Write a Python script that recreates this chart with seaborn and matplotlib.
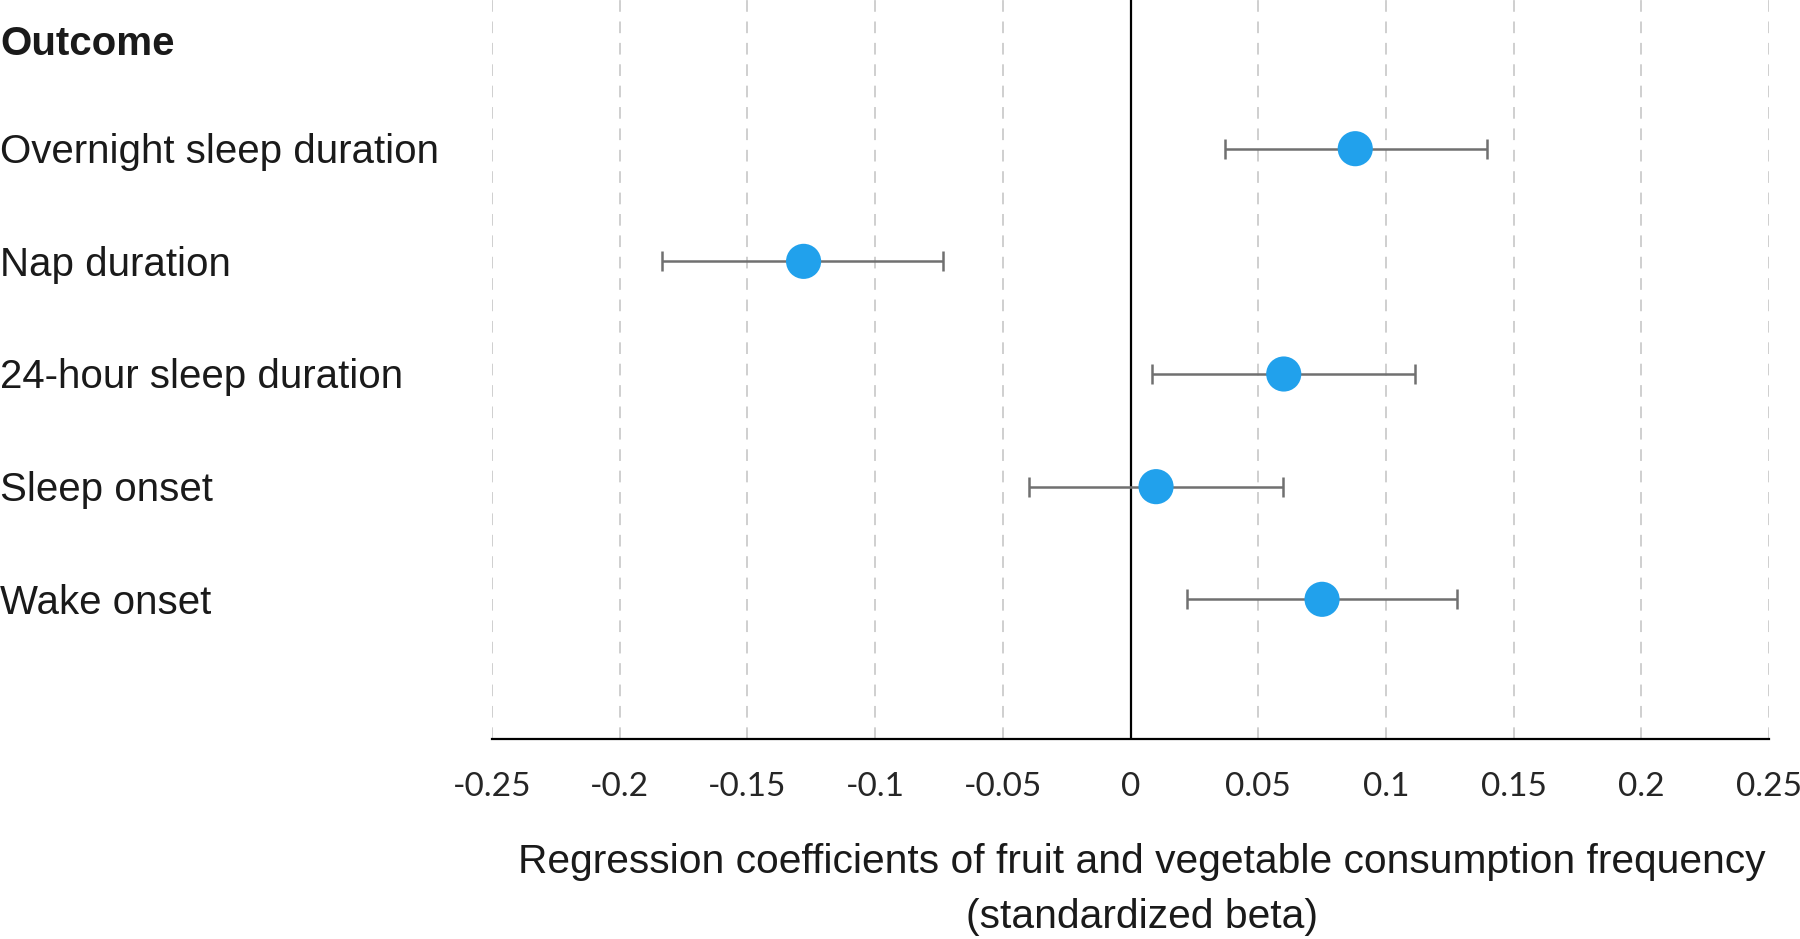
import matplotlib
matplotlib.use("Agg")
import matplotlib.pyplot as plt
import matplotlib.transforms as mtransforms
from matplotlib import font_manager
import seaborn as sns
import pandas as pd
import numpy as np

outcomes = ["Overnight sleep duration", "Nap duration", "24-hour sleep duration",
            "Sleep onset", "Wake onset"]
beta = [0.088, -0.128, 0.060, 0.010, 0.075]
ci_low = [0.037, -0.1835, 0.0085, -0.0396, 0.022]
ci_high = [0.1394, -0.0733, 0.1115, 0.0598, 0.128]
xticks = [-0.25, -0.2, -0.15, -0.1, -0.05, 0, 0.05, 0.1, 0.15, 0.2, 0.25]
xticklabels = ["-0.25", "-0.2", "-0.15", "-0.1", "-0.05", "0", "0.05", "0.1", "0.15", "0.2", "0.25"]

df = pd.DataFrame({"outcome": outcomes, "beta": beta, "lo": ci_low, "hi": ci_high})
df["row"] = np.arange(len(df))

sns.set_theme(style="white")
names = {f.name for f in font_manager.fontManager.ttflist}
main_font = "Liberation Sans" if "Liberation Sans" in names else "DejaVu Sans"
plt.rcParams["font.family"] = [main_font, "DejaVu Sans"]

fig = plt.figure(figsize=(18, 9.39), dpi=100)
ax = fig.add_axes([492/1800, (939-739)/939, (1769-492)/1800, 739/939])

for xt in xticks:
    if xt == 0:
        ax.axvline(0, color="black", lw=1.6, zorder=1)
    else:
        ax.axvline(xt, color="#cfcfcf", lw=1.4, ls=(0, (6, 5)), zorder=0)

ax.errorbar(df["beta"], df["row"],
            xerr=[df["beta"] - df["lo"], df["hi"] - df["beta"]],
            fmt="none", ecolor="#707070", elinewidth=1.8, capsize=7, capthick=1.8, zorder=2)
sns.scatterplot(data=df, x="beta", y="row", ax=ax, s=640, color="#21a1ec",
                edgecolor="none", zorder=3, legend=False)

ax.set_xlim(-0.25, 0.25)
ax.set_ylim(5.24, -1.32)
ax.set_yticks([])
ax.set_xticks(xticks)
ax.set_xticklabels(xticklabels, fontfamily="Lato", fontsize=24)
ax.tick_params(axis="x", direction="out", length=15, width=1.4, color="black", pad=9)
for s in ["top", "right", "left"]:
    ax.spines[s].set_visible(False)
ax.spines["bottom"].set_color("black")
ax.spines["bottom"].set_linewidth(1.6)
ax.set_xlabel("")
ax.set_ylabel("")

fs = 29
trans = mtransforms.blended_transform_factory(fig.transFigure, ax.transData)
ax.text(0.0, -0.93, "Outcome", transform=trans, fontsize=fs, fontweight="bold",
        family=main_font, ha="left", va="center", color="#1a1a1a")
for r, name in zip(df["row"], df["outcome"]):
    ax.text(0.0, r + 0.03, name, transform=trans, fontsize=fs, family=main_font,
            ha="left", va="center", color="#1a1a1a")

fig.text(1142/1800, 1 - 862/939, "Regression coefficients of fruit and vegetable consumption frequency",
         fontsize=29.3, family=main_font, ha="center", va="center", color="#1a1a1a")
fig.text(1142/1800, 1 - 917/939, "(standardized beta)",
         fontsize=29.3, family=main_font, ha="center", va="center", color="#1a1a1a")

fig.savefig("out.png", dpi=100)
